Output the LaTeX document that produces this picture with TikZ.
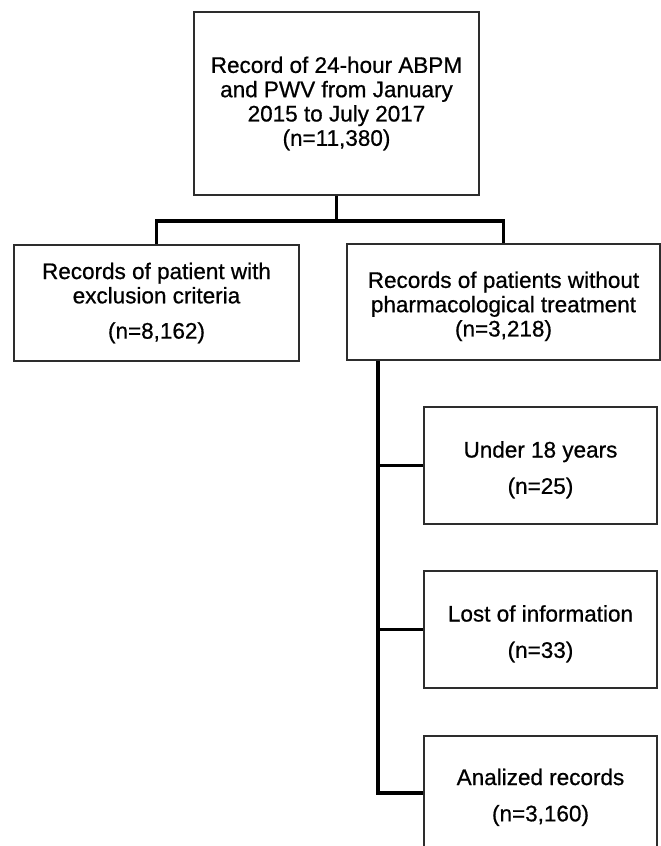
\documentclass[tikz,border=0pt]{standalone}
\usepackage{fontspec}
\setmainfont{Liberation Sans}[FakeBold=0.7]
\usepackage{xcolor}
\usepackage{tikz}
\usetikzlibrary{positioning,calc}
\definecolor{boxline}{RGB}{45,45,45}
\newcommand{\topstrut}{\rule{0pt}{25pt}}

\begin{document}
\begin{tikzpicture}[x=1pt, y=-1pt,
        flowbox/.style={draw=boxline, line width=1.6pt, inner sep=0pt, align=center,
            font=\fontsize{22.5}{24.3}\selectfont},
        conn/.style={black, line width=3.8pt, line join=miter}]
        \useasboundingbox (0,0) rectangle (661,846);
        \clip (0,0) rectangle (661,846);

        % Top record
        \node[flowbox, minimum width=285pt, minimum height=183pt] (record) at (336.5,103.5)
            {Record of 24-hour ABPM\\and PWV from January\\2015 to July 2017\\(n=11,380)};

        % Second level
        \node[flowbox, minimum width=285pt, minimum height=116pt] (excl) at (156.5,303)
            {Records of patient with\\exclusion criteria\\[11pt](n=8,162)};
        \node[flowbox, minimum width=313pt, minimum height=116pt] (noTreat) at (503.5,302)
            {\topstrut Records of patients without\\pharmacological treatment\\(n=3,218)};

        % Right column
        \node[flowbox, minimum width=233pt, minimum height=117pt] (under18) at (540.5,465.5)
            {\topstrut Under 18 years\\[12pt](n=25)};
        \node[flowbox, minimum width=233pt, minimum height=117pt] (lostInfo) at (540.5,629.5)
            {\topstrut Lost of information\\[12pt](n=33)};
        \node[flowbox, minimum width=233pt, minimum height=114pt] (analized) at (540.5,793)
            {\topstrut Analized records\\[12pt](n=3,160)};

        % Connectors
        \coordinate (bar) at (0,221);
        \coordinate (trunk) at (378,0);
        \draw[conn] (record.south) -- (record.south |- bar) -| (excl.north);
        \draw[conn] (record.south |- bar) -| (noTreat.north);
        \draw[conn] (trunk |- noTreat.south) |- (analized.west);
        \draw[conn] (trunk |- under18.west) -- (under18.west);
        \draw[conn] (trunk |- lostInfo.west) -- (lostInfo.west);
    \end{tikzpicture}
\end{document}
